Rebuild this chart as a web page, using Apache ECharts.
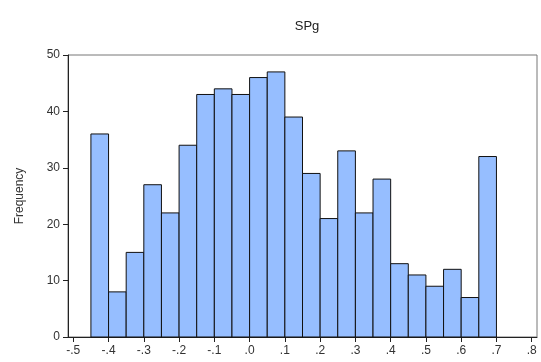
<!DOCTYPE html>
<html>
<head>
<meta charset="utf-8">
<script src="https://cdn.jsdelivr.net/npm/echarts@6/dist/echarts.min.js"></script>
<style>html,body{margin:0;padding:0;background:#fff}#c{width:541px;height:362px}</style>
</head>
<body>
<div id="c"></div>
<script>
var binStart = [-0.45,-0.40,-0.35,-0.30,-0.25,-0.20,-0.15,-0.10,-0.05,0.00,0.05,0.10,0.15,0.20,0.25,0.30,0.35,0.40,0.45,0.50,0.55,0.60,0.65];
var binWidth = 0.05;
var frequency = [36,8,15,27,22,34,43,44,43,46,47,39,29,21,33,22,28,13,11,9,12,7,32];
var xTickValues = [-0.5,-0.4,-0.3,-0.2,-0.1,0,0.1,0.2,0.3,0.4,0.5,0.6,0.7,0.8];
var xTickLabels = ['-.5','-.4','-.3','-.2','-.1','.0','.1','.2','.3','.4','.5','.6','.7','.8'];

var data = binStart.map(function(s,i){ return [s, s + binWidth, frequency[i]]; });
var chart = echarts.init(document.getElementById('c'));
var font = 'Liberation Sans, Arial, sans-serif';
chart.setOption({
  animation: false,
  title: { text: 'SPg', left: 302, textAlign: 'center', top: 15,
    textStyle: { fontFamily: font, fontSize: 13, fontWeight: 'normal', color: '#222' } },
  grid: { left: 68, top: 55, right: 4, bottom: 25, show: true, borderColor: '#777', borderWidth: 1 },
  xAxis: {
    type: 'value', min: -0.515, max: 0.815,
    axisLine: { show: true, onZero: false, lineStyle: { color: '#222' } },
    axisTick: { show: true, customValues: xTickValues, length: 5, lineStyle: { color: '#222' } },
    axisLabel: { customValues: xTickValues, fontFamily: font, fontSize: 12, color: '#333', margin: 8,
      formatter: function(v){ var i = xTickValues.findIndex(function(t){return Math.abs(t-v)<1e-6;}); return i>=0 ? xTickLabels[i] : ''; } },
    splitLine: { show: false }
  },
  yAxis: {
    type: 'value', min: 0, max: 50, interval: 10,
    name: 'Frequency', nameLocation: 'middle', nameGap: 42,
    nameTextStyle: { fontFamily: font, fontSize: 12, color: '#333' },
    axisLine: { show: true, onZero: false, lineStyle: { color: '#222' } },
    axisTick: { show: true, length: 5, lineStyle: { color: '#222' } },
    axisLabel: { fontFamily: font, fontSize: 12, color: '#333', margin: 8 },
    splitLine: { show: false }
  },
  series: [{
    type: 'custom',
    data: data,
    encode: { x: [0, 1], y: 2 },
    renderItem: function(params, api){
      var p0 = api.coord([api.value(0), api.value(2)]);
      var p1 = api.coord([api.value(1), 0]);
      return { type: 'rect',
        shape: { x: p0[0], y: p0[1], width: p1[0]-p0[0], height: p1[1]-p0[1] },
        style: { fill: '#96BEFF', stroke: '#111', lineWidth: 1 } };
    }
  }]
});
</script>
</body>
</html>
